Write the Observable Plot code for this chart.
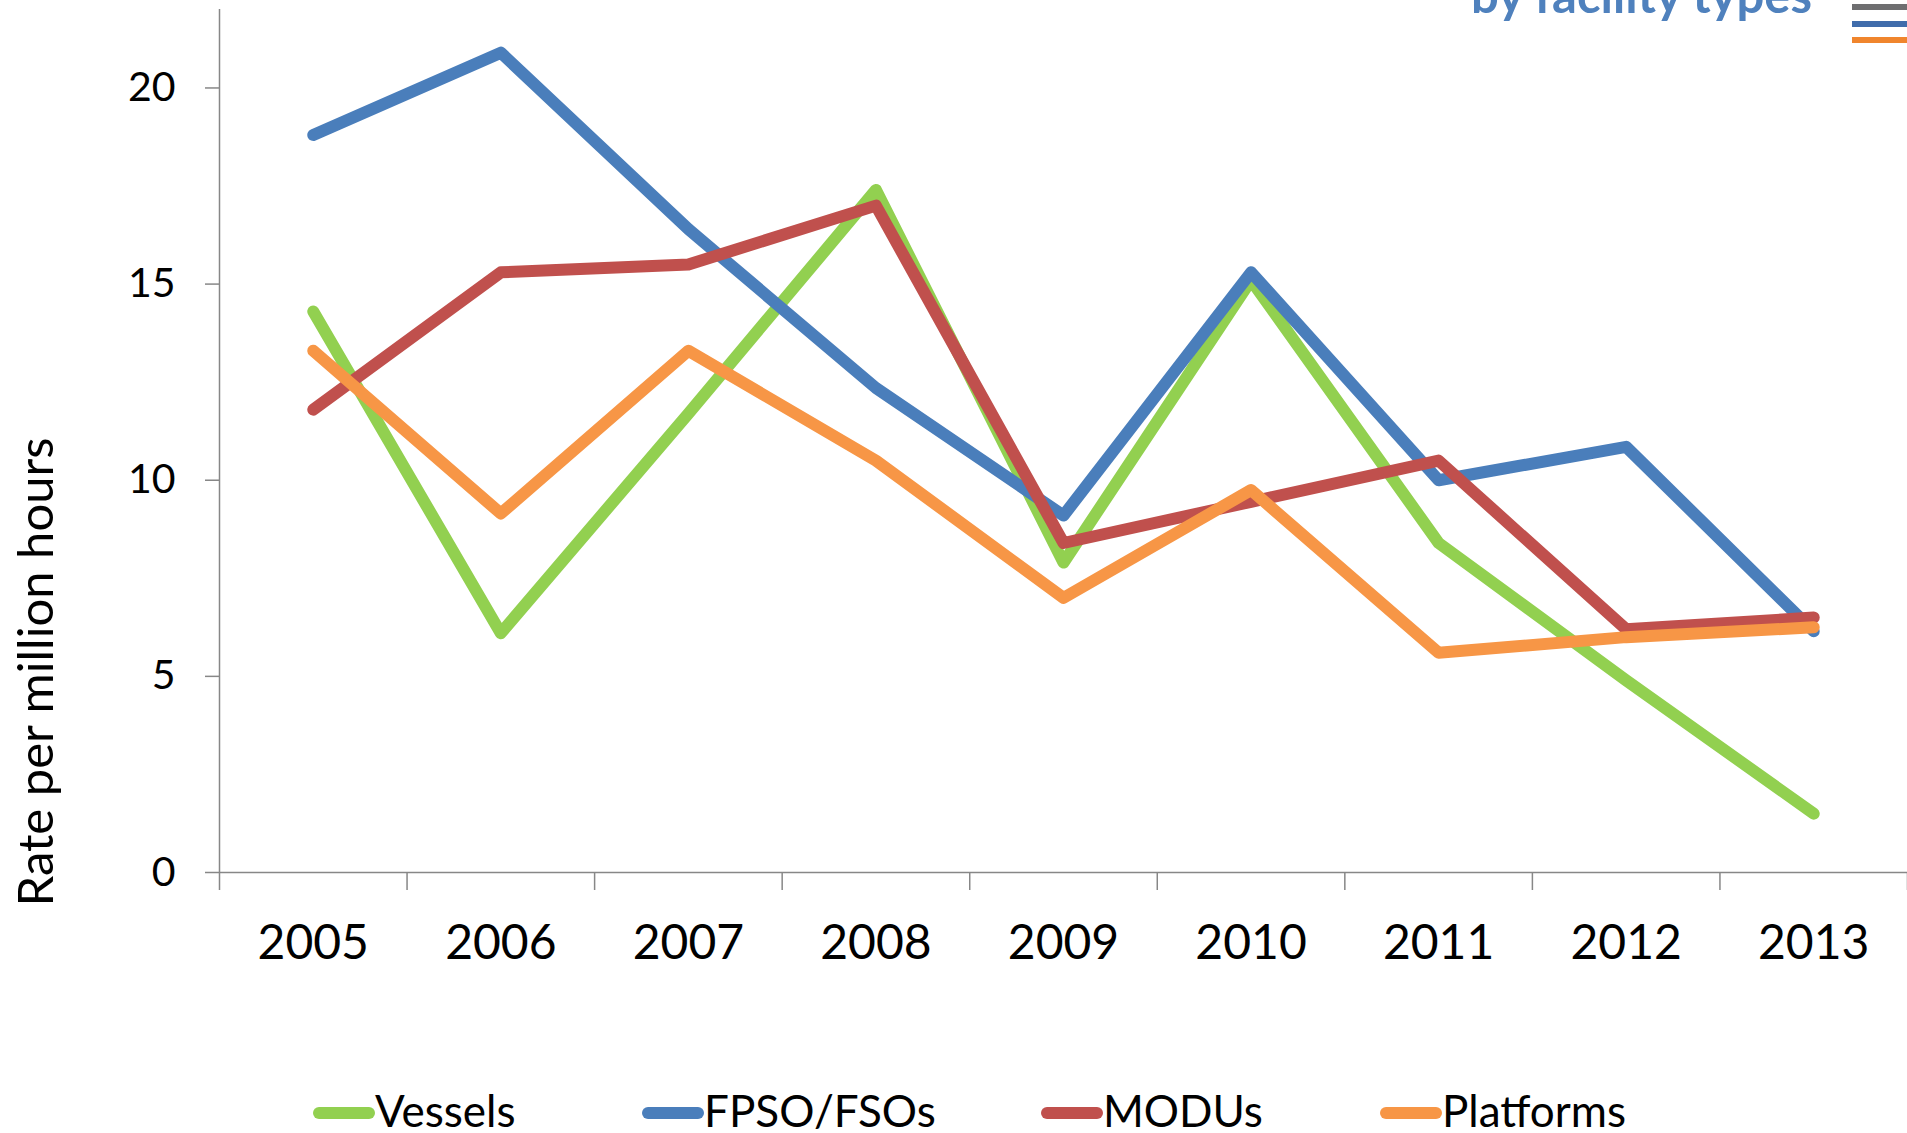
<!DOCTYPE html>
<html>
<head>
<meta charset="utf-8">
<script src="https://cdn.jsdelivr.net/npm/d3@7"></script>
<script src="https://cdn.jsdelivr.net/npm/@observablehq/plot@0.6"></script>
<style>
html, body { margin: 0; padding: 0; background: #fff; }
#wrap { position: relative; width: 1907px; height: 1133px; overflow: hidden; font-family: Lato, sans-serif; background: #fff; }
#wrap svg { position: absolute; left: 0; top: 0; }
.title { position: absolute; right: 95px; top: -30px; font: bold 49px/49px Lato, sans-serif; color: #4F81BD; white-space: nowrap; }
.deco { position: absolute; left: 1852px; width: 60px; height: 6px; }
.ylab { position: absolute; left: 34px; top: 672px; transform: translate(-50%, -50%) rotate(-90deg); font: 49px/49px Lato, sans-serif; color: #000; white-space: nowrap; }
.sw { position: absolute; top: 1107px; width: 62px; height: 12px; border-radius: 6px; }
.lt { position: absolute; top: 1088px; font: 44px/44px Lato, sans-serif; color: #000; white-space: nowrap; }
</style>
</head>
<body>
<div id="wrap"></div>
<script>
// ---- data ----
const years = [2005, 2006, 2007, 2008, 2009, 2010, 2011, 2012, 2013];
const seriesNames = ["Vessels", "FPSO/FSOs", "MODUs", "Platforms"];
const vessels   = [14.3, 6.1, 11.7, 17.4, 7.9, 15.1, 8.4, 4.9, 1.5];
const fpso      = [18.8, 20.9, 16.4, 12.35, 9.1, 15.3, 10.0, 10.85, 6.15];
const modus     = [11.8, 15.3, 15.5, 17.0, 8.4, 9.45, 10.5, 6.2, 6.5];
const platforms = [13.3, 9.15, 13.3, 10.5, 7.0, 9.75, 5.6, 6.0, 6.25];
const yTicks = [0, 5, 10, 15, 20];
const titleText = "by facility types";
const yLabelText = "Rate per million hours";

// ---- styles ----
const seriesColors = ["#92D050", "#4A7EBB", "#C0504D", "#F79646"];
const decoColors = ["#6E6E70", "#3F6CAB", "#F0852D"];
const decoTops = [4, 21, 37];
const legendLefts = [313, 642, 1041, 1380];

const seriesValues = [vessels, fpso, modus, platforms];
const rows = seriesNames.flatMap((name, i) =>
  years.map((year, j) => ({ name, year, value: seriesValues[i][j] })));

const boundaries = d3.range(years[0] - 0.5, years[years.length - 1] + 1, 1);
const axisColor = "#878787";

const chart = Plot.plot({
  width: 1907,
  height: 1040,
  marginLeft: 219,
  marginRight: 0,
  marginTop: 9,
  marginBottom: 168,
  x: { type: "linear", domain: [years[0] - 0.5, years[years.length - 1] + 0.5] },
  y: { domain: [0, 22] },
  color: { domain: seriesNames, range: seriesColors },
  style: { fontFamily: "Lato, sans-serif", color: "#000", background: "transparent", overflow: "visible" },
  marks: [
    Plot.ruleY([0], { stroke: axisColor, strokeWidth: 1.5 }),
    Plot.ruleX([years[0] - 0.5], { stroke: axisColor, strokeWidth: 1.5 }),
    Plot.axisY({ ticks: yTicks, tickSize: 14, tickPadding: 30, fontSize: 41, label: null, stroke: axisColor, strokeWidth: 1.5 }),
    Plot.axisX({ ticks: boundaries, tickSize: 18, tickFormat: () => "", label: null, stroke: axisColor, strokeWidth: 1.5 }),
    Plot.axisX({ ticks: years, tickSize: 0, tickPadding: 52, tickFormat: d => String(d), fontSize: 48, label: null }),
    ...seriesNames.map(name => Plot.line(rows.filter(r => r.name === name), {
      x: "year", y: "value", stroke: "name", strokeWidth: 12,
      strokeLinecap: "round", strokeLinejoin: "round"
    }))
  ]
});

const wrap = document.getElementById("wrap");
wrap.appendChild(chart);

// title (cut off at top, as in the reference)
const t = document.createElement("div");
t.className = "title";
t.textContent = titleText;
wrap.appendChild(t);

// decorative lines at top right
decoColors.forEach((c, i) => {
  const d = document.createElement("div");
  d.className = "deco";
  d.style.top = decoTops[i] + "px";
  d.style.background = c;
  wrap.appendChild(d);
});

// y axis label
const yl = document.createElement("div");
yl.className = "ylab";
yl.textContent = yLabelText;
wrap.appendChild(yl);

// legend
seriesNames.forEach((name, i) => {
  const sw = document.createElement("div");
  sw.className = "sw";
  sw.style.left = legendLefts[i] + "px";
  sw.style.background = seriesColors[i];
  wrap.appendChild(sw);
  const lt = document.createElement("div");
  lt.className = "lt";
  lt.style.left = (legendLefts[i] + 62) + "px";
  lt.textContent = name;
  wrap.appendChild(lt);
});
</script>
</body>
</html>
